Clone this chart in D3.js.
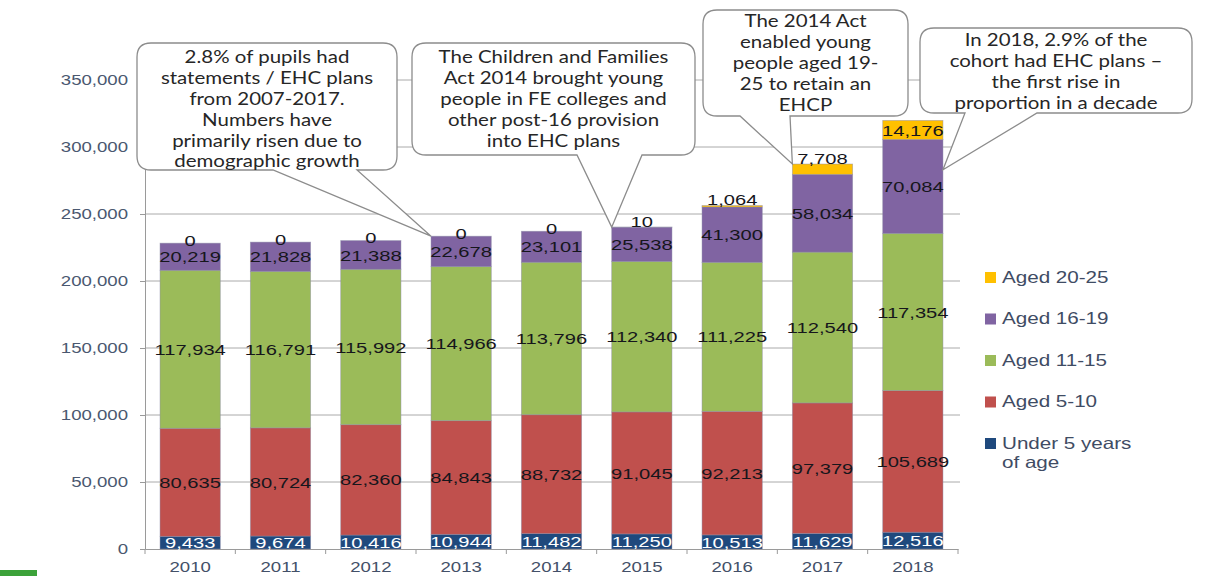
<!DOCTYPE html>
<html>
<head>
<meta charset="utf-8">
<script src="https://cdn.jsdelivr.net/npm/d3@7"></script>
<style>
  html, body { margin: 0; padding: 0; background: #ffffff; }
  svg { display: block; }
</style>
</head>
<body>
<svg id="chart" width="1213" height="576"></svg>
<script>
// Pupils with statements / EHC plans, by age group, 2010-2018
const years = ["2010", "2011", "2012", "2013", "2014", "2015", "2016", "2017", "2018"];
const under5 = [9433, 9674, 10416, 10944, 11482, 11250, 10513, 11629, 12516];
const aged5to10 = [80635, 80724, 82360, 84843, 88732, 91045, 92213, 97379, 105689];
const aged11to15 = [117934, 116791, 115992, 114966, 113796, 112340, 111225, 112540, 117354];
const aged16to19 = [20219, 21828, 21388, 22678, 23101, 25538, 41300, 58034, 70084];
const aged20to25 = [0, 0, 0, 0, 0, 10, 1064, 7708, 14176];

const seriesKeys = ["under5", "aged5to10", "aged11to15", "aged16to19", "aged20to25"];
const seriesNames = ["Under 5 years of age", "Aged 5-10", "Aged 11-15", "Aged 16-19", "Aged 20-25"];
const seriesColors = ["#1F497D", "#C0504D", "#9BBB59", "#8064A2", "#FFC000"];
const yTicks = [0, 50000, 100000, 150000, 200000, 250000, 300000, 350000];

const rows = years.map((yr, i) => ({
  year: yr,
  under5: under5[i],
  aged5to10: aged5to10[i],
  aged11to15: aged11to15[i],
  aged16to19: aged16to19[i],
  aged20to25: aged20to25[i]
}));

const svg = d3.select("#chart");
const plotLeft = 145, plotRight = 958, plotTop = 80, plotBottom = 549;

const x = d3.scaleBand().domain(years).range([plotLeft, plotRight]).paddingInner(0.333).paddingOuter(0.1665);
const y = d3.scaleLinear().domain([0, 350000]).range([plotBottom, plotTop]);
const color = d3.scaleOrdinal().domain(seriesKeys).range(seriesColors);
const fmt = d3.format(",");

// horizontal gridlines
svg.append("g")
  .selectAll("line")
  .data(yTicks.filter(t => t > 0))
  .join("line")
  .attr("x1", plotLeft).attr("x2", plotRight + 2)
  .attr("y1", d => y(d)).attr("y2", d => y(d))
  .attr("stroke", "#aaaaaa").attr("stroke-width", 1);

// y axis
const yAxis = svg.append("g")
  .attr("transform", `translate(${plotLeft},0)`)
  .call(d3.axisLeft(y).tickValues(yTicks).tickFormat(fmt).tickSize(5).tickPadding(12));
yAxis.select(".domain").attr("stroke", "#9a9a9a");
yAxis.selectAll(".tick line").attr("stroke", "#9a9a9a");
yAxis.selectAll(".tick text")
  .attr("fill", "#4a5870")
  .style("font-family", "'Liberation Sans', Arial, sans-serif")
  .style("font-size", "15.5px")
  .each(function () {
    const t = d3.select(this);
    const xx = +t.attr("x");
    t.attr("x", null).attr("transform", `translate(${xx},0) scale(1.2,1)`);
  });

// x axis
const xAxis = svg.append("g")
  .attr("transform", `translate(0,${plotBottom})`)
  .call(d3.axisBottom(x).tickSize(0).tickPadding(12));
xAxis.select(".domain").attr("stroke", "#9a9a9a");
xAxis.selectAll(".tick text")
  .attr("fill", "#435068")
  .style("font-family", "'Liberation Sans', Arial, sans-serif")
  .style("font-size", "15.5px")
  .each(function () {
    const t = d3.select(this);
    const yy = +t.attr("y");
    t.attr("y", null).attr("dy", "0.71em").attr("transform", `translate(0,${yy}) scale(1.2,1)`);
  });
// category separators on the x axis
const bounds = years.map(yr => x(yr) - x.step() * x.paddingInner() / 2).concat([plotRight]);
svg.append("g").selectAll("line").data(bounds).join("line")
  .attr("x1", d => d).attr("x2", d => d)
  .attr("y1", plotBottom).attr("y2", plotBottom + 5)
  .attr("stroke", "#9a9a9a");

// stacked bars
const stacked = d3.stack().keys(seriesKeys)(rows);
const layers = svg.append("g").selectAll("g")
  .data(stacked)
  .join("g")
  .attr("fill", d => color(d.key));

layers.selectAll("rect")
  .data(d => d.map(p => ({ key: d.key, p })))
  .join("rect")
  .attr("x", d => x(d.p.data.year))
  .attr("width", x.bandwidth())
  .attr("y", d => y(d.p[1]))
  .attr("height", d => y(d.p[0]) - y(d.p[1]))
  .attr("stroke", "#8a8aa6")
  .attr("stroke-opacity", 0.55)
  .attr("stroke-width", 0.8);

// value labels
const labelG = svg.append("g")
  .style("font-family", "'Liberation Sans', Arial, sans-serif")
  .style("font-size", "15.5px");

stacked.forEach(layer => {
  layer.forEach(p => {
    const v = p[1] - p[0];
    const cx = x(p.data.year) + x.bandwidth() / 2;
    let cy = (y(p[0]) + y(p[1])) / 2;
    if (layer.key === "aged20to25") {
      if (v === 0) cy = y(p[1]) - 3;
      else if (y(p[0]) - y(p[1]) < 12) cy = y(p[1]) - 6;
    }
    labelG.append("text")
      .attr("transform", `translate(${cx},${cy}) scale(1.3,1)`)
      .attr("text-anchor", "middle")
      .attr("dy", "0.36em")
      .attr("fill", layer.key === "under5" ? "#ffffff" : "#16161c")
      .text(fmt(v));
  });
});

// legend
const legendItems = [
  { key: "aged20to25", lines: ["Aged 20-25"] },
  { key: "aged16to19", lines: ["Aged 16-19"] },
  { key: "aged11to15", lines: ["Aged 11-15"] },
  { key: "aged5to10", lines: ["Aged 5-10"] },
  { key: "under5", lines: ["Under 5 years", "of age"] }
];
const legend = svg.append("g")
  .style("font-family", "'Liberation Sans', Arial, sans-serif")
  .style("font-size", "16.5px");
legendItems.forEach((item, i) => {
  const cy = 277 + i * 41.5;
  legend.append("rect")
    .attr("x", 985).attr("y", cy - 5).attr("width", 11).attr("height", 11)
    .attr("fill", color(item.key));
  item.lines.forEach((ln, j) => {
    legend.append("text")
      .attr("transform", `translate(1002,${cy + j * 19}) scale(1.25,1)`)
      .attr("dy", "0.36em")
      .attr("fill", "#3f4c64")
      .text(ln);
  });
});

// callouts with pointers
function calloutPath(bx0, by0, bx1, by1, r, t0, t1, tip) {
  return [
    `M${bx0 + r},${by0}`,
    `L${bx1 - r},${by0}`,
    `Q${bx1},${by0} ${bx1},${by0 + r}`,
    `L${bx1},${by1 - r}`,
    `Q${bx1},${by1} ${bx1 - r},${by1}`,
    `L${t1},${by1}`,
    `L${tip[0]},${tip[1]}`,
    `L${t0},${by1}`,
    `L${bx0 + r},${by1}`,
    `Q${bx0},${by1} ${bx0},${by1 - r}`,
    `L${bx0},${by0 + r}`,
    `Q${bx0},${by0} ${bx0 + r},${by0}`,
    "Z"
  ].join(" ");
}

const callouts = [
  {
    box: [137, 43, 397, 170], tail: [273, 357],
    tip: [x("2013"), y(233431)],
    lines: ["2.8% of pupils had", "statements / EHC plans", "from 2007-2017.", "Numbers have", "primarily risen due to", "demographic growth"],
    firstLine: 57
  },
  {
    box: [412, 43, 695, 155], tail: [577, 642],
    tip: [x("2015"), y(240183)],
    lines: ["The Children and Families", "Act 2014 brought young", "people in FE colleges and", "other post-16 provision", "into EHC plans"],
    firstLine: 57
  },
  {
    box: [703, 10, 908, 116], tail: [740, 790],
    tip: [x("2017"), y(287290)],
    lines: ["The 2014 Act", "enabled young", "people aged 19-", "25 to retain an", "EHCP"],
    firstLine: 21
  },
  {
    box: [920, 28, 1192, 113], tail: [965, 1037],
    tip: [x("2018") + x.bandwidth(), y(283000)],
    lines: ["In 2018, 2.9% of the", "cohort had EHC plans \u2013", "the first rise in", "proportion in a decade"],
    firstLine: 40
  }
];

const cg = svg.append("g");
callouts.forEach(c => {
  const [bx0, by0, bx1, by1] = c.box;
  cg.append("path")
    .attr("d", calloutPath(bx0, by0, bx1, by1, 14, c.tail[0], c.tail[1], c.tip))
    .attr("fill", "#ffffff")
    .attr("stroke", "#8c8c8c")
    .attr("stroke-width", 1.3);
  const cx = (bx0 + bx1) / 2;
  c.lines.forEach((ln, j) => {
    cg.append("text")
      .attr("transform", `translate(${cx},${c.firstLine + j * 20.8}) scale(1.17,1)`)
      .attr("text-anchor", "middle")
      .attr("dy", "0.36em")
      .attr("fill", "#262626")
      .style("font-family", "Lato, 'Open Sans', sans-serif")
      .style("font-size", "17.5px")
      .text(ln);
  });
});

// footer strip
svg.append("rect").attr("x", 0).attr("y", 570).attr("width", 37).attr("height", 6).attr("fill", "#3ca23a");
</script>
</body>
</html>
